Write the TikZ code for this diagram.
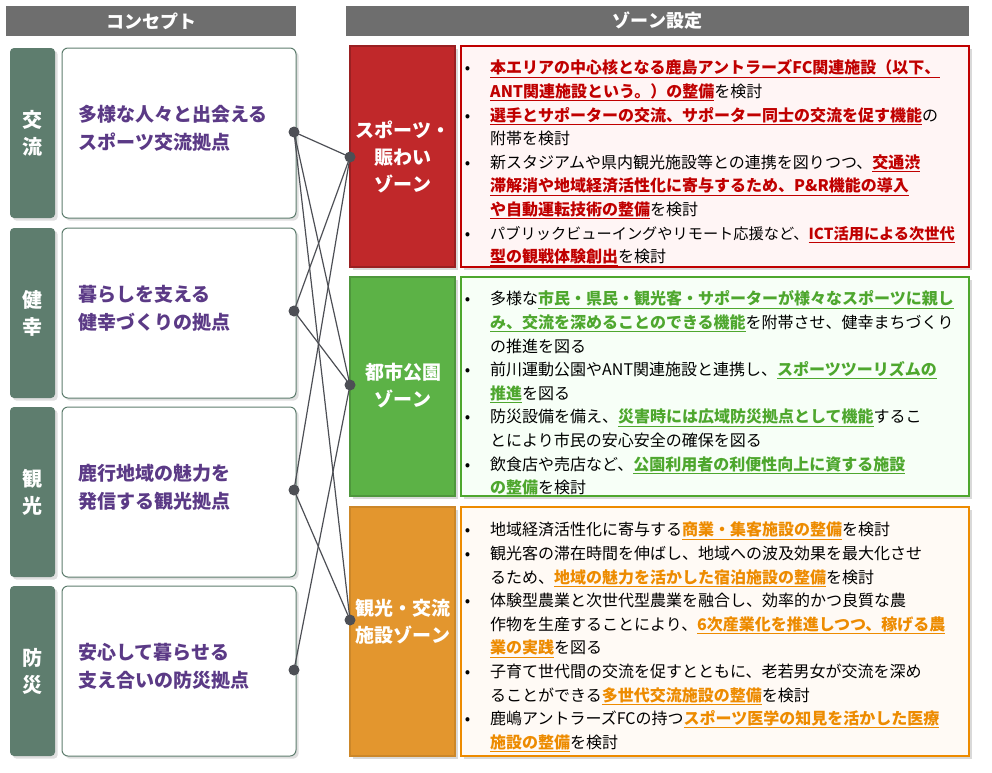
\documentclass[tikz,border=0pt]{standalone}
\usepackage{fontspec}
\setmainfont{Noto Sans CJK JP}
\usepackage{enumitem}
\usetikzlibrary{shadows}
\definecolor{headgray}{HTML}{6E6E6E}
\definecolor{tabgreen}{HTML}{5E7D6E}
\definecolor{conceptpurple}{HTML}{5B3A86}
\definecolor{zonered}{HTML}{C0282A}
\definecolor{zonegreen}{HTML}{5CB246}
\definecolor{zoneorange}{HTML}{E3962E}
\definecolor{textred}{HTML}{C00000}
\definecolor{textgreen}{HTML}{4EA72E}
\definecolor{textorange}{HTML}{ED8B00}
\definecolor{linegray}{HTML}{4D4F55}
\newcommand\hlr[1]{\textcolor{textred}{\bfseries\underline{#1}}}
\newcommand\hlg[1]{\textcolor{textgreen}{\bfseries\underline{#1}}}
\newcommand\hlo[1]{\textcolor{textorange}{\bfseries\underline{#1}}}
\newenvironment{zonelist}{\fontsize{16}{23.6}\selectfont
  \begin{itemize}[leftmargin=28pt,labelsep=20pt,itemsep=0pt,parsep=0pt,topsep=0pt,partopsep=0pt,label=\textbullet]}{\end{itemize}}
\tikzset{
  header/.style={fill=headgray, text=white, font=\bfseries\fontsize{18}{20}\selectfont, inner sep=0pt},
  tab/.style={fill=tabgreen, rounded corners=4pt, drop shadow={opacity=0.25}},
  concept/.style={draw=tabgreen, line width=1pt, fill=white, rounded corners=6pt, drop shadow={opacity=0.25}},
  zonebox/.style={line width=1.5pt, drop shadow={opacity=0.3}},
  dot/.style={circle, fill=linegray, inner sep=0pt, minimum size=11pt},
  link/.style={draw=linegray, line width=1.2pt}
}
\begin{document}
\begin{tikzpicture}[x=1pt,y=-1pt]
  \useasboundingbox (0,0) rectangle (992,772);
  % headers
  \node[header, minimum width=290pt, minimum height=30pt] (hconcept) at (151,21) {コンセプト};
  \node[header, minimum width=623pt, minimum height=30pt] (hzone) at (657.5,21) {ゾーン設定};
  % concept column
  \foreach \i/\top/\a/\b/\la/\lb in {1/48/交/流/多様な人々と出会える/スポーツ交流拠点,
                                    2/228/健/幸/暮らしを支える/健幸づくりの拠点,
                                    3/407/観/光/鹿行地域の魅力を/発信する観光拠点,
                                    4/586/防/災/安心して暮らせる/支え合いの防災拠点}{
    \fill[tab] (10,\top) rectangle ++(45,170);
    \node[text=white, font=\bfseries\fontsize{20}{27}\selectfont, align=center] (tab\i) at (32.5,\top+85) {\a\\\b};
    \draw[concept] (62,\top) rectangle ++(234,170);
    \node[text=conceptpurple, font=\bfseries\fontsize{19}{28}\selectfont, align=left, anchor=west] (concept\i) at (75,\top+80) {\la\\\lb};
  }
  % zones
  \draw[zonebox, draw=zonered!80!black, fill=zonered] (350,46) rectangle (455,267);
  \draw[zonebox, draw=textred, fill=red!4] (461,46) rectangle (969,267);
  \draw[zonebox, draw=zonegreen!85!black, fill=zonegreen] (350,277) rectangle (455,496);
  \draw[zonebox, draw=textgreen, fill=green!3] (461,277) rectangle (969,496);
  \draw[zonebox, draw=zoneorange!90!black, fill=zoneorange] (350,507) rectangle (455,756);
  \draw[zonebox, draw=textorange, fill=orange!4] (461,507) rectangle (969,756);
  \node[text=white, font=\bfseries\fontsize{19}{27}\selectfont, align=center] (sports) at (403,157) {スポーツ・\\賑わい\\ゾーン};
  \node[text=white, font=\bfseries\fontsize{19}{27}\selectfont, align=center] (park) at (403,386) {都市公園\\ゾーン};
  \node[text=white, font=\bfseries\fontsize{19}{27}\selectfont, align=center] (tourism) at (403,622) {観光・交流\\施設ゾーン};
  \node[anchor=north west, inner sep=0pt, text width=530pt] (sportstext) at (462,50) {\begin{zonelist}
    \item \hlr{本エリアの中心核となる鹿島アントラーズFC関連施設（以下、}\\\hlr{ANT関連施設という。）の整備}を検討
    \item \hlr{選手とサポーターの交流、サポーター同士の交流を促す機能}の\\附帯を検討
    \item 新スタジアムや県内観光施設等との連携を図りつつ、\hlr{交通渋}\\\hlr{滞解消や地域経済活性化に寄与するため、P\&R機能の導入}\\\hlr{や自動運転技術の整備}を検討
    \item {\fontsize{15.2}{23.6}\selectfont パブリックビューイングやリモート応援など、\hlr{ICT活用による次世代}}\\\hlr{型の観戦体験創出}を検討
  \end{zonelist}};
  \node[anchor=north west, inner sep=0pt, text width=530pt] (parktext) at (462,281) {\begin{zonelist}
    \item 多様な\hlg{市民・県民・観光客・サポーターが様々なスポーツに親し}\\\hlg{み、交流を深めることのできる機能}を附帯させ、健幸まちづくり\\の推進を図る
    \item 前川運動公園やANT関連施設と連携し、\hlg{スポーツツーリズムの}\\\hlg{推進}を図る
    \item 防災設備を備え、\hlg{災害時には広域防災拠点として機能}するこ\\とにより市民の安心安全の確保を図る
    \item 飲食店や売店など、\hlg{公園利用者の利便性向上に資する施設}\\\hlg{の整備}を検討
  \end{zonelist}};
  \node[anchor=north west, inner sep=0pt, text width=530pt] (tourismtext) at (462,512) {\begin{zonelist}
    \item 地域経済活性化に寄与する\hlo{商業・集客施設の整備}を検討
    \item 観光客の滞在時間を伸ばし、地域への波及効果を最大化させ\\るため、\hlo{地域の魅力を活かした宿泊施設の整備}を検討
    \item 体験型農業と次世代型農業を融合し、効率的かつ良質な農\\作物を生産することにより、\hlo{6次産業化を推進しつつ、稼げる農}\\\hlo{業の実践}を図る
    \item 子育て世代間の交流を促すとともに、老若男女が交流を深め\\ることができる\hlo{多世代交流施設の整備}を検討
    \item 鹿嶋アントラーズFCの持つ\hlo{スポーツ医学の知見を活かした医療}\\\hlo{施設の整備}を検討
  \end{zonelist}};
  % connectors
  \node[dot] (l1) at (294,132) {};
  \node[dot] (l2) at (294,311) {};
  \node[dot] (l3) at (294,490) {};
  \node[dot] (l4) at (294,670) {};
  \node[dot] (r1) at (350,157) {};
  \node[dot] (r2) at (350,385) {};
  \node[dot] (r3) at (350,620) {};
  \foreach \a/\b in {l1/r1,l1/r2,l1/r3,l2/r1,l2/r2,l3/r1,l3/r3,l4/r2}
    \draw[link] (\a.center) -- (\b.center);
\end{tikzpicture}
\end{document}
